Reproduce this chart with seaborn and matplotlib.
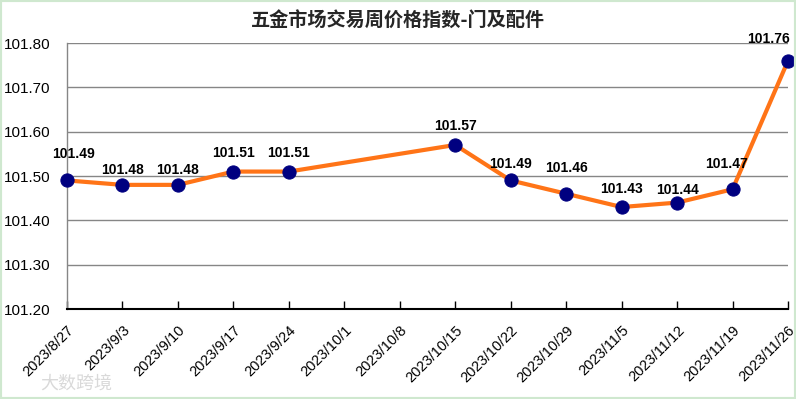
import numpy as np
import pandas as pd
import matplotlib
matplotlib.use("Agg")
import matplotlib.pyplot as plt
import seaborn as sns
from matplotlib.patches import Rectangle
from matplotlib.transforms import ScaledTranslation

dates = ["2023/8/27", "2023/9/3", "2023/9/10", "2023/9/17", "2023/9/24", "2023/10/1",
         "2023/10/8", "2023/10/15", "2023/10/22", "2023/10/29", "2023/11/5", "2023/11/12",
         "2023/11/19", "2023/11/26"]
values = [101.49, 101.48, 101.48, 101.51, 101.51, np.nan, np.nan, 101.57, 101.49,
          101.46, 101.43, 101.44, 101.47, 101.76]
yticks = [101.20, 101.30, 101.40, 101.50, 101.60, 101.70, 101.80]
title = "五金市场交易周价格指数-门及配件"

# label placement offsets (points) for each plotted point, in order
label_dx = [5, 0, 0, 0, 0, 0, 0, 0, 0, 0, -4.3, 1]
label_dy = [13.7, 5.8, 5.8, 8.6, 8.6, 8.6, 6.5, 13.7, 7.9, 4.3, 13, 10.8]

sns.set_theme(style="white")
plt.rcParams['font.family'] = ['Liberation Sans', 'Noto Sans CJK SC', 'DejaVu Sans']

df = pd.DataFrame({"pos": np.arange(len(dates)), "value": values})
dfv = df.dropna().reset_index(drop=True)

fig = plt.figure(figsize=(7.96, 3.99), dpi=100)
ax = fig.add_axes([67/796, 1-309/399, (788-67)/796, (309-43)/399])

sns.lineplot(data=dfv, x="pos", y="value", ax=ax, color="#FF7417", linewidth=3,
             marker="o", markersize=9.5, markerfacecolor="#000080",
             markeredgecolor="#000080", zorder=3, clip_on=False)

n = len(dfv)
for i, (p, v) in enumerate(zip(dfv["pos"], dfv["value"])):
    ha = "right" if i == n - 1 else "center"
    ax.annotate(f"{v:.2f}", (p, v), xytext=(label_dx[i], label_dy[i]),
                textcoords="offset points",
                ha=ha, va="bottom", fontsize=10, fontweight="bold", color="#000000")

ax.set_xlim(0, len(dates) - 1)
ax.set_ylim(101.20, 101.80)
ax.set_yticks(yticks)
ax.set_yticklabels([f"{t:.2f}" for t in yticks], fontsize=11, color="#000000")
ax.set_xticks(np.arange(len(dates)))
ax.set_xticklabels(dates, rotation=45, ha="right", rotation_mode="anchor",
                   fontsize=10.5, color="#000000")
for lbl in ax.get_xticklabels():
    lbl.set_transform(lbl.get_transform() + ScaledTranslation(14/100, 0, fig.dpi_scale_trans))
ax.set_xlabel("")
ax.set_ylabel("")
ax.yaxis.grid(True, color="#868686", linewidth=1)
ax.xaxis.grid(False)
ax.set_axisbelow(True)
for s in ["top", "right"]:
    ax.spines[s].set_visible(False)
ax.spines["left"].set_color("#868686")
ax.spines["left"].set_linewidth(1)
ax.spines["bottom"].set_color("#000000")
ax.spines["bottom"].set_linewidth(1.5)
ax.tick_params(axis="x", direction="in", length=6, width=1, color="#000000", bottom=True, pad=10)
ax.tick_params(axis="y", length=0, pad=12)

fig.text(0.5, 1-21/399, title, ha="center", va="center", fontsize=13.8,
         fontweight="bold", family=['Noto Sans CJK SC', 'DejaVu Sans'])
fig.text(40/796, 1-384/399, "大数跨境", ha="left", va="center", fontsize=13,
         color="#d0d0d0", alpha=0.8, family=['Noto Sans CJK SC', 'DejaVu Sans'])

fig.patches.append(Rectangle((0, 0), 1, 1, transform=fig.transFigure, fill=False,
                             edgecolor="#cfe8cf", linewidth=3))

fig.savefig("out.png", dpi=100)
